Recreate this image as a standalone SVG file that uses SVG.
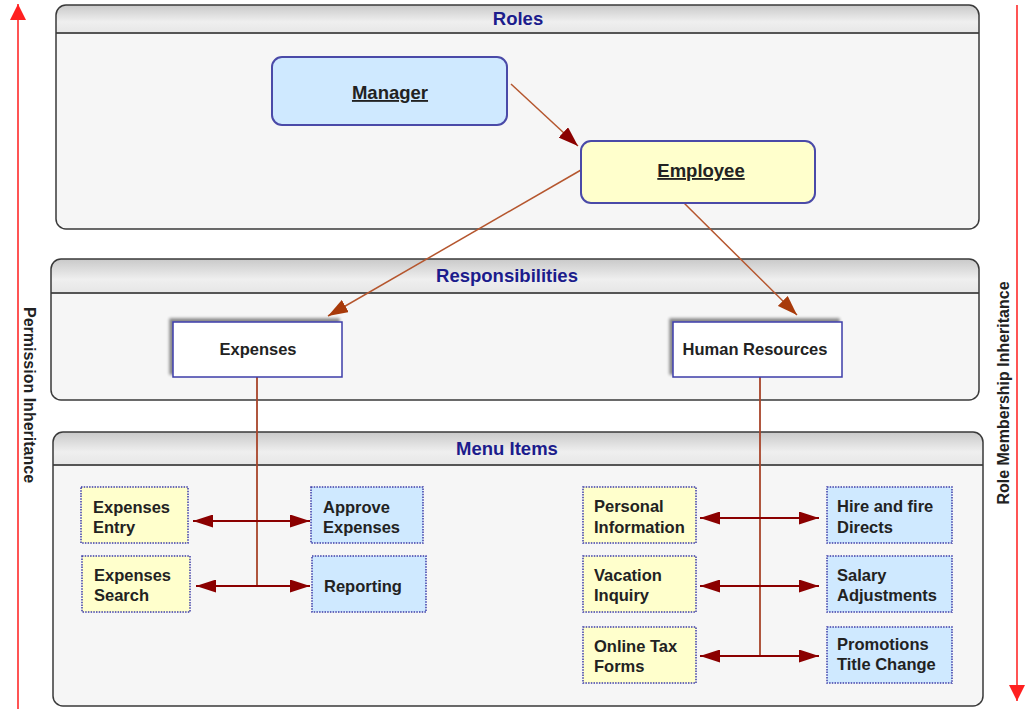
<svg xmlns="http://www.w3.org/2000/svg" width="1025" height="709" viewBox="0 0 1025 709">
<defs>
<style>
.panel{fill:#f6f6f6;stroke:none}
.pframe{fill:none;stroke:#3a3a3a;stroke-width:1.5}
.hdr{fill:url(#hg)}
.hline{stroke:#555;stroke-width:2}
.ptitle{font-family:"Liberation Sans",Arial,sans-serif;font-weight:bold;font-size:18.5px;fill:#1c1c8c;text-anchor:middle}
.role{stroke:#4a4aa8;stroke-width:2}
.rtext{font-family:"Liberation Sans",Arial,sans-serif;font-weight:bold;font-size:18.5px;fill:#222;text-anchor:middle;text-decoration:underline}
.resp{fill:#fff;stroke:#3c3ca8;stroke-width:1.5}
.t{font-family:"Liberation Sans",Arial,sans-serif;font-weight:bold;font-size:16.5px;fill:#222}
.mi{stroke:#3c3ca8;stroke-width:1.5;stroke-dasharray:1.5 1.2}
.y{fill:#ffffcc}
.b{fill:#cfe9ff}
.side{font-family:"Liberation Sans",Arial,sans-serif;font-weight:bold;font-size:16px;fill:#222;text-anchor:middle}
.conn{fill:none;stroke:#b5562e;stroke-width:1.5}
.vconn{fill:none;stroke:#a8442a;stroke-width:1.8}
.dbl{fill:none;stroke:#8b0000;stroke-width:2}
.red{fill:none;stroke:#ff2a2a;stroke-width:1.6}
</style>
<linearGradient id="hg" x1="0" y1="0" x2="0" y2="1">
<stop offset="0" stop-color="#c9c9c9"/>
<stop offset="0.6" stop-color="#efefef"/>
<stop offset="1" stop-color="#e6e6e6"/>
</linearGradient>
<filter id="sh" x="-10%" y="-20%" width="120%" height="140%">
<feGaussianBlur in="SourceAlpha" stdDeviation="1.5"/>
<feOffset dx="-3" dy="-3" result="o"/>
<feComponentTransfer><feFuncA type="linear" slope="0.45"/></feComponentTransfer>
<feMerge><feMergeNode/><feMergeNode in="SourceGraphic"/></feMerge>
</filter>
<marker id="ad" viewBox="0 0 20 14" refX="20" refY="7" markerWidth="20" markerHeight="14" markerUnits="userSpaceOnUse" orient="auto"><path d="M0,0 L20,7 L0,14 z" fill="#8b0000"/></marker>
<marker id="ao" viewBox="0 0 20 14" refX="20" refY="7" markerWidth="20" markerHeight="14" markerUnits="userSpaceOnUse" orient="auto"><path d="M0,0 L20,7 L0,14 z" fill="#a83a0a"/></marker>
<marker id="am" viewBox="0 0 20 13" refX="20" refY="6.5" markerWidth="20" markerHeight="13" markerUnits="userSpaceOnUse" orient="auto-start-reverse"><path d="M0,0 L20,6.5 L0,13 z" fill="#8b0000"/></marker>
<marker id="ar" viewBox="0 0 16 16" refX="16" refY="8" markerWidth="16" markerHeight="16" markerUnits="userSpaceOnUse" orient="auto"><path d="M0,0 L16,8 L0,16 z" fill="#ff2020"/></marker>
</defs>
<rect width="1025" height="709" fill="#ffffff"/>

<!-- side arrows -->
<g id="permission-inheritance">
<line class="red" x1="18" y1="709" x2="18" y2="4" marker-end="url(#ar)"/>
<text class="side" transform="translate(24,395) rotate(90)">Permission Inheritance</text>
</g>
<g id="role-membership-inheritance">
<line class="red" x1="1017" y1="5" x2="1017" y2="701" marker-end="url(#ar)"/>
<text class="side" transform="translate(1009,393) rotate(-90)">Role Membership Inheritance</text>
</g>

<!-- panels -->
<g id="panel-roles">
<rect class="panel" x="56" y="5" width="923" height="224" rx="10"/>
<path class="hdr" d="M56,33 V15 Q56,5 66,5 H969 Q979,5 979,15 V33 Z"/>
<line class="hline" x1="56" y1="33" x2="979" y2="33"/>
<rect class="pframe" x="56" y="5" width="923" height="224" rx="10"/>
<text class="ptitle" x="518" y="25">Roles</text>
</g>
<g id="panel-responsibilities">
<rect class="panel" x="51" y="259" width="928" height="141" rx="10"/>
<path class="hdr" d="M51,293 V269 Q51,259 61,259 H969 Q979,259 979,269 V293 Z"/>
<line class="hline" x1="51" y1="293" x2="979" y2="293"/>
<rect class="pframe" x="51" y="259" width="928" height="141" rx="10"/>
<text class="ptitle" x="507" y="282">Responsibilities</text>
</g>
<g id="panel-menu-items">
<rect class="panel" x="53" y="432" width="930" height="274" rx="10"/>
<path class="hdr" d="M53,465 V442 Q53,432 63,432 H973 Q983,432 983,442 V465 Z"/>
<line class="hline" x1="53" y1="465" x2="983" y2="465"/>
<rect class="pframe" x="53" y="432" width="930" height="274" rx="10"/>
<text class="ptitle" x="507" y="455">Menu Items</text>
</g>

<!-- connectors -->
<g id="connectors">
<line class="conn" x1="511" y1="84" x2="578" y2="146" stroke="#a04030" marker-end="url(#ad)"/>
<line class="conn" x1="581" y1="170" x2="328" y2="316" marker-end="url(#ao)"/>
<line class="conn" x1="684" y1="203" x2="797" y2="315" marker-end="url(#ao)"/>
<polyline class="vconn" points="257,377 257,586"/>
<polyline class="vconn" points="760,377 760,656"/>
<line class="dbl" x1="193" y1="521" x2="310" y2="521" marker-start="url(#am)" marker-end="url(#am)"/>
<line class="dbl" x1="196" y1="586" x2="310" y2="586" marker-start="url(#am)" marker-end="url(#am)"/>
<line class="dbl" x1="700" y1="518" x2="819" y2="518" marker-start="url(#am)" marker-end="url(#am)"/>
<line class="dbl" x1="700" y1="586" x2="819" y2="586" marker-start="url(#am)" marker-end="url(#am)"/>
<line class="dbl" x1="700" y1="656" x2="819" y2="656" marker-start="url(#am)" marker-end="url(#am)"/>
</g>

<!-- roles -->
<g id="manager">
<rect class="role" x="272" y="57" width="235" height="68" rx="10" fill="#cfe9ff"/>
<text class="rtext" x="390" y="99">Manager</text>
</g>
<g id="employee">
<rect class="role" x="581" y="141" width="234" height="62" rx="10" fill="#ffffcc"/>
<text class="rtext" x="701" y="177">Employee</text>
</g>

<!-- responsibilities -->
<g id="expenses">
<rect class="resp" x="173" y="322" width="169" height="55" filter="url(#sh)"/>
<text class="t" x="258" y="355" text-anchor="middle">Expenses</text>
</g>
<g id="human-resources">
<rect class="resp" x="673" y="322" width="169" height="55" filter="url(#sh)"/>
<text class="t" x="755" y="355" text-anchor="middle">Human Resources</text>
</g>

<!-- menu items -->
<g id="expenses-entry">
<rect class="mi y" x="81" y="487" width="107" height="56"/>
<text class="t" x="93" y="513">Expenses</text><text class="t" x="93" y="533">Entry</text>
</g>
<g id="expenses-search">
<rect class="mi y" x="82" y="556" width="108" height="56"/>
<text class="t" x="94" y="581">Expenses</text><text class="t" x="94" y="601">Search</text>
</g>
<g id="approve-expenses">
<rect class="mi b" x="311" y="487" width="112" height="56"/>
<text class="t" x="323" y="513">Approve</text><text class="t" x="323" y="533">Expenses</text>
</g>
<g id="reporting">
<rect class="mi b" x="312" y="556" width="114" height="56"/>
<text class="t" x="324" y="592">Reporting</text>
</g>
<g id="personal-information">
<rect class="mi y" x="583" y="487" width="113" height="56"/>
<text class="t" x="594" y="512">Personal</text><text class="t" x="594" y="533">Information</text>
</g>
<g id="vacation-inquiry">
<rect class="mi y" x="583" y="556" width="113" height="56"/>
<text class="t" x="594" y="581">Vacation</text><text class="t" x="594" y="601">Inquiry</text>
</g>
<g id="online-tax-forms">
<rect class="mi y" x="583" y="627" width="113" height="56"/>
<text class="t" x="594" y="652">Online Tax</text><text class="t" x="594" y="672">Forms</text>
</g>
<g id="hire-and-fire-directs">
<rect class="mi b" x="827" y="487" width="125" height="56"/>
<text class="t" x="837" y="512">Hire and fire</text><text class="t" x="837" y="533">Directs</text>
</g>
<g id="salary-adjustments">
<rect class="mi b" x="827" y="556" width="125" height="56"/>
<text class="t" x="837" y="581">Salary</text><text class="t" x="837" y="601">Adjustments</text>
</g>
<g id="promotions-title-change">
<rect class="mi b" x="827" y="627" width="125" height="56"/>
<text class="t" x="837" y="650">Promotions</text><text class="t" x="837" y="670">Title Change</text>
</g>
</svg>
